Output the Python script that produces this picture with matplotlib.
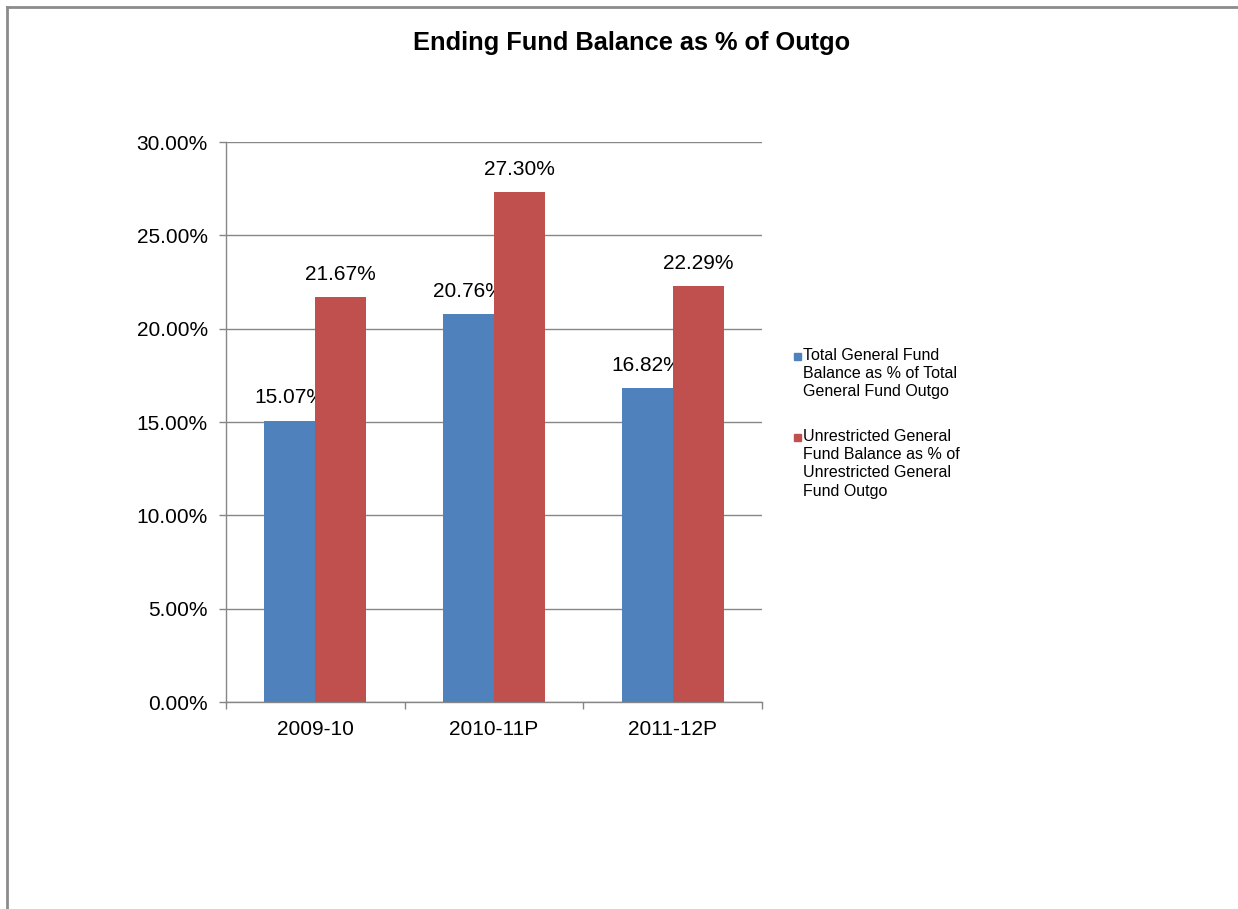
import matplotlib.pyplot as plt
from matplotlib.lines import Line2D
from matplotlib.patches import Rectangle
import numpy as np

plt.rcParams['font.family'] = ['Liberation Sans', 'DejaVu Sans']

years = ['2009-10', '2010-11P', '2011-12P']
total_pct = [15.07, 20.76, 16.82]
unrestricted_pct = [21.67, 27.30, 22.29]
series_labels = ['Total General Fund\nBalance as % of Total\nGeneral Fund Outgo',
                 'Unrestricted General\nFund Balance as % of\nUnrestricted General\nFund Outgo']
colors = ['#4F81BD', '#C0504D']
grid_col = '#868686'

fig = plt.figure(figsize=(12.38, 9.09), dpi=100)
ax = fig.add_axes([226 / 1238, 1 - 702 / 909, 536 / 1238, 560 / 909])

x = np.arange(len(years))
w = 1 / 3.5
for vals, off, c in [(total_pct, -w / 2, colors[0]), (unrestricted_pct, w / 2, colors[1])]:
    bars = ax.bar(x + off, vals, width=w, color=c, zorder=3)
    for b, v in zip(bars, vals):
        ax.annotate(f'{v:.2f}%', (b.get_x() + b.get_width() / 2, v),
                    xytext=(0, 16.5), textcoords='offset points',
                    ha='center', va='center', fontsize=15)

ax.set_xlim(-0.5, 2.5)
ax.set_ylim(0, 30)
ax.set_yticks(np.arange(0, 30.1, 5))
ax.set_yticklabels([f'{t:.2f}%' for t in np.arange(0, 30.1, 5)], fontsize=15)
ax.set_xticks(x)
ax.set_xticklabels(years, fontsize=15)
ax.set_xticks([-0.5, 0.5, 1.5, 2.5], minor=True)
ax.tick_params(axis='x', which='major', length=0, pad=13)
ax.tick_params(axis='x', which='minor', length=5, color=grid_col, width=1)
ax.tick_params(axis='y', length=5, color=grid_col, width=1, pad=8)
ax.grid(axis='y', color=grid_col, linewidth=1, zorder=0)
for s in ['top', 'right']:
    ax.spines[s].set_visible(False)
for s in ['left', 'bottom']:
    ax.spines[s].set_color(grid_col)
    ax.spines[s].set_linewidth(1)

fig.text(632 / 1238, 1 - 43 / 909, 'Ending Fund Balance as % of Outgo',
         ha='center', va='center', fontsize=18.3, fontweight='bold')

# legend drawn by hand so the marker sits at the first line
legend_y = [357, 438]
for lab, c, yy in zip(series_labels, colors, legend_y):
    fig.add_artist(Rectangle((794 / 1238, 1 - (yy + 3) / 909), 7 / 1238, 7 / 909,
                             transform=fig.transFigure, color=c))
    fig.text(803 / 1238, 1 - (yy - 9) / 909, lab, ha='left', va='top',
             fontsize=11.5, linespacing=1.27)

# outer frame (left and top edges only visible)
fig.add_artist(Line2D([7 / 1238, 7 / 1238], [0, 1 - 7 / 909], transform=fig.transFigure,
                      color='#8c8c8c', linewidth=2))
fig.add_artist(Line2D([7 / 1238, 1], [1 - 7 / 909, 1 - 7 / 909], transform=fig.transFigure,
                      color='#8c8c8c', linewidth=2))

fig.savefig('out.png', dpi=100)
